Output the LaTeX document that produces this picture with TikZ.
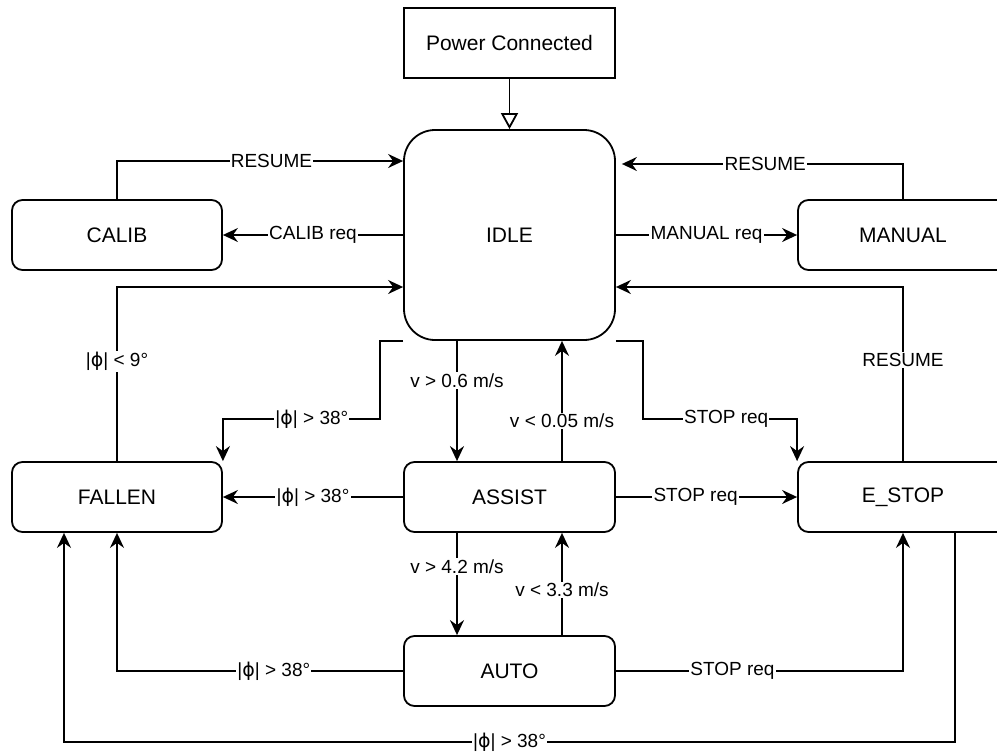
\documentclass[tikz,border=0pt]{standalone}
\usepackage{fontspec}
\setmainfont{Liberation Sans}
\newfontfamily\phifont{DejaVu Sans}
\newcommand{\phisym}{{\phifont ϕ}}
\usetikzlibrary{arrows.meta}
\begin{document}
\begin{tikzpicture}[x=1pt,y=-1pt,
  boxfont/.style={font=\fontsize{21}{25}\selectfont},
  state/.style={draw, line width=1.8pt, rounded corners=10.5pt, minimum width=210pt, minimum height=70pt, inner sep=0pt, boxfont},
  lbl/.style={fill=white, inner sep=1.2pt, font=\fontsize{19}{22}\selectfont},
  conn/.style={line width=1.8pt},
  arr/.style={conn, -{Stealth[length=15pt,width=14pt,inset=5pt]}},
  openarr/.style={conn, -{Triangle[open, length=16pt, width=17pt, fill=white]}}]
\clip (0,0) rectangle (997,753);
\fill[white] (0,0) rectangle (997,753);
% nodes
\node[draw, line width=1.8pt, minimum width=211pt, minimum height=70pt, inner sep=0pt, boxfont] (power) at (509.5,43) {Power Connected};
\node[state, minimum width=211pt, minimum height=210pt, rounded corners=31pt] (idle) at (509.5,235) {IDLE};
\node[state] (calib) at (117,235) {CALIB};
\node[state] (manual) at (903,235) {MANUAL};
\node[state] (fallen) at (117,497) {FALLEN};
\node[state, minimum width=211pt] (assist) at (509.5,497) {ASSIST};
\node[state] (estop) at (903,497) {E\_STOP};
\node[state, minimum width=211pt] (auto) at (509.5,671) {AUTO};
% connectors
\draw[openarr] (power.south) -- (idle.north);
\draw[arr] (calib.north) |- node[lbl, pos=0.77]{RESUME} ([yshift=74pt]idle.west);
\draw[arr] (idle.west) -- node[lbl]{CALIB req} (calib.east);
\draw[arr] (fallen.north) |- node[lbl, pos=0.286]{|\phisym| < 9°} ([yshift=-52pt]idle.west);
\draw[arr] (manual.north) |- node[lbl, pos=0.745]{RESUME} ([xshift=6pt,yshift=71pt]idle.east);
\draw[arr] (idle.east) -- node[lbl]{MANUAL req} (manual.west);
\draw[arr] (estop.north) |- node[lbl, pos=0.29]{RESUME} ([yshift=-52pt]idle.east);
\draw[arr] (idle.south west) -| ([xshift=-23pt,yshift=-78pt]idle.south west) -| node[lbl, pos=0.217]{|\phisym| > 38°} (fallen.north east);
\draw[arr] ([xshift=-52.5pt]idle.south) -- node[lbl, pos=0.33]{v > 0.6 m/s} ([xshift=-52.5pt]assist.north);
\draw[arr] ([xshift=52.5pt]assist.north) -- node[lbl, pos=0.336]{v < 0.05 m/s} ([xshift=52.5pt]idle.south);
\draw[arr] (idle.south east) -| ([xshift=27pt,yshift=-78pt]idle.south east) -| node[lbl, pos=0.27]{STOP req} (estop.north west);
\draw[arr] (assist.west) -- node[lbl]{|\phisym| > 38°} (fallen.east);
\draw[arr] (assist.east) -- node[lbl, pos=0.44]{STOP req} (estop.west);
\draw[arr] ([xshift=-52.5pt]assist.south) -- node[lbl, pos=0.33]{v > 4.2 m/s} ([xshift=-52.5pt]auto.north);
\draw[arr] ([xshift=52.5pt]auto.north) -- node[lbl, pos=0.44]{v < 3.3 m/s} ([xshift=52.5pt]assist.south);
\draw[arr] (auto.west) -| node[lbl, pos=0.226]{|\phisym| > 38°} (fallen.south);
\draw[arr] (auto.east) -| node[lbl, pos=0.203]{STOP req} (estop.south);
\draw[arr] ([xshift=52pt]estop.south) |- node[lbl, pos=0.75]{|\phisym| > 38°} ([xshift=-53pt,yshift=-209pt]fallen.south) -- ([xshift=-53pt]fallen.south);
\end{tikzpicture}
\end{document}
